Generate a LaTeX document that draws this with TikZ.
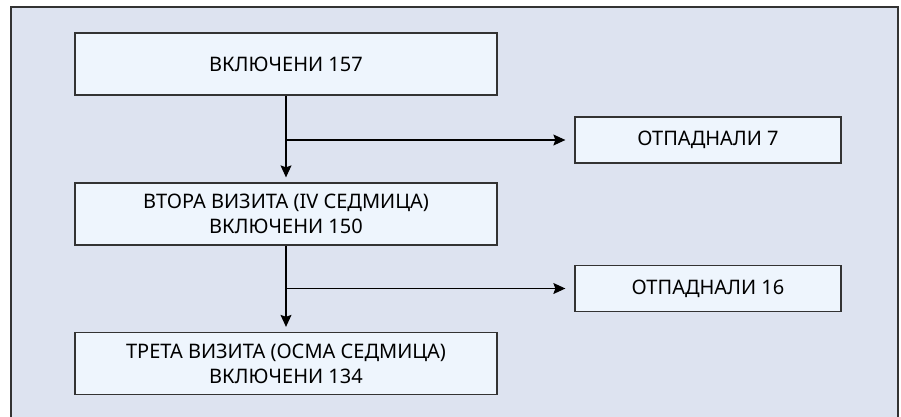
\documentclass[tikz,border=0pt]{standalone}
\usepackage{fontspec}
\setmainfont{Noto Sans}[Script=Cyrillic,Language=Bulgarian]
\usepackage{tikz}
\usetikzlibrary{arrows.meta}
\definecolor{panelbg}{HTML}{DDE3F0}
\definecolor{boxbg}{HTML}{EEF5FD}
\definecolor{linegray}{HTML}{333333}
\tikzstyle{edge}=[
	-{Stealth[length=12pt,width=11pt,inset=2pt]},
	draw=black,
	line width=1.1pt
]
\tikzstyle{stage}=[
	rectangle,
	draw=linegray,
	line width=1.3pt,
	fill=boxbg,
	align=center,
	font=\fontsize{20}{25}\selectfont,
	minimum width=422pt,
	minimum height=62pt,
	inner sep=0pt
]
\tikzstyle{dropout}=[
	stage,
	minimum width=266pt,
	minimum height=46pt
]
\begin{document}
\begin{tikzpicture}[x=1pt, y=-1pt]
\useasboundingbox (0,0) rectangle (901,416);
\draw[draw=linegray, line width=1.3pt, fill=panelbg] (11,7) rectangle (898,430);

\node[stage] at (286, 64) (incl) {ВКЛЮЧЕНИ 157};
\node[stage] at (286, 214) (visit2) {ВТОРА ВИЗИТА (IV СЕДМИЦА)\\ВКЛЮЧЕНИ 150};
\node[stage] at (286, 363.5) (visit3) {ТРЕТА ВИЗИТА (ОСМА СЕДМИЦА)\\ВКЛЮЧЕНИ 134};
\node[dropout] at (708, 140) (out1) {ОТПАДНАЛИ 7};
\node[dropout] at (708, 288.5) (out2) {ОТПАДНАЛИ 16};

\draw[edge, shorten >=5pt] (incl) to (visit2);
\draw[edge, shorten >=5pt] (visit2) to (visit3);
\draw[edge, shorten >=9pt] (incl |- out1) to (out1);
\draw[edge, shorten >=9pt] (visit2 |- out2) to (out2);
\end{tikzpicture}
\end{document}
